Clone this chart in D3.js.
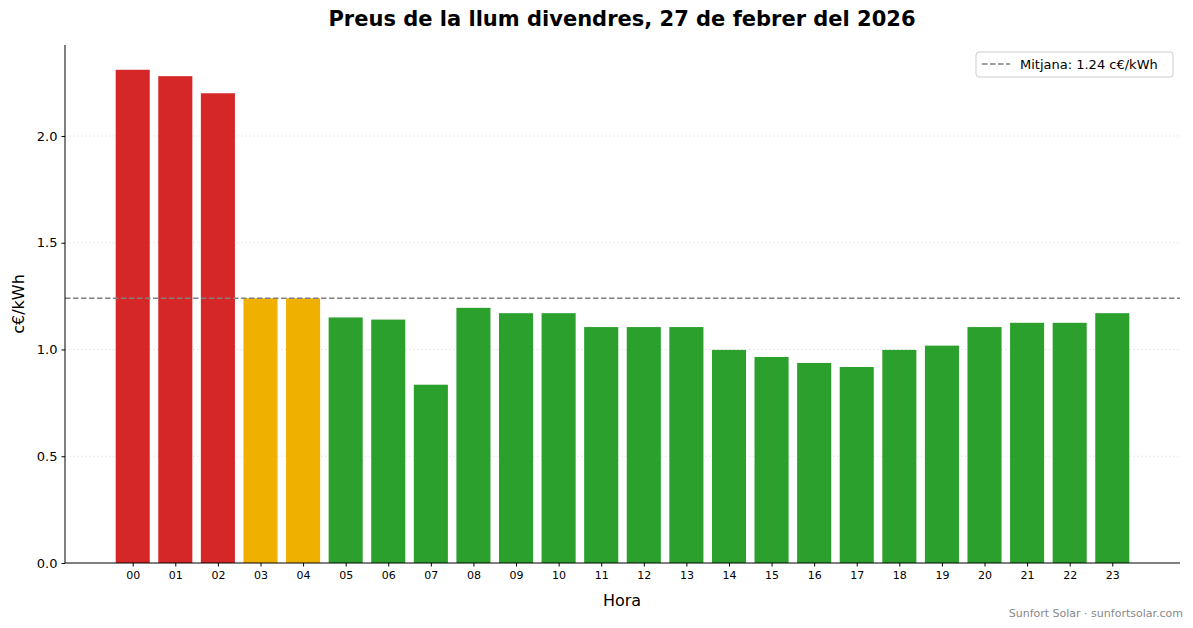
<!DOCTYPE html>
<html><head><meta charset="utf-8">
<script src="https://cdn.jsdelivr.net/npm/d3@7"></script>
<style>body{margin:0;background:#fff}text{font-family:"DejaVu Sans",sans-serif}</style>
</head><body><svg id="c" width="1193" height="628"></svg>
<script>
const hours = ["00","01","02","03","04","05","06","07","08","09","10","11","12","13","14","15","16","17","18","19","20","21","22","23"];
const prices = [2.31,2.28,2.20,1.24,1.24,1.15,1.14,0.835,1.195,1.17,1.17,1.105,1.105,1.105,0.998,0.965,0.937,0.918,0.998,1.018,1.105,1.125,1.125,1.17];
const levels = ["high","high","high","mid","mid","low","low","low","low","low","low","low","low","low","low","low","low","low","low","low","low","low","low","low"];
const yTicks = [0,0.5,1.0,1.5,2.0];
const mean = 1.24;
const colors = {high:"#d62728",mid:"#f0b000",low:"#2ca02c"};

const svg = d3.select("#c");
const L=65,R=1180,T=45,B=563;
const x = d3.scaleLinear().domain([-1.59,24.59]).range([L,R]);
const y = d3.scaleLinear().domain([0,2.426]).range([B,T]);
const bw = x(0.8)-x(0);

svg.append("g").selectAll("line").data(yTicks.slice(1)).join("line")
 .attr("x1",L).attr("x2",R).attr("y1",d=>y(d)).attr("y2",d=>y(d))
 .attr("stroke","#ddd").attr("stroke-dasharray","1.5,2.5").attr("stroke-width",0.8);

svg.append("g").selectAll("rect").data(prices).join("rect")
 .attr("x",(d,i)=>x(i)-bw/2).attr("width",bw)
 .attr("y",d=>y(d)).attr("height",d=>B-y(d))
 .attr("fill",(d,i)=>colors[levels[i]]);

svg.append("line").attr("x1",L).attr("x2",R).attr("y1",y(mean)).attr("y2",y(mean))
 .attr("stroke","#808080").attr("stroke-width",1.5).attr("stroke-dasharray","5.5,2.5");

const ya = svg.append("g").attr("transform",`translate(${L},0)`)
 .call(d3.axisLeft(y).tickValues(yTicks).tickFormat(d3.format(".1f")).tickSize(3.5).tickPadding(4));
ya.selectAll("text").attr("font-size",13).attr("fill","#000");
ya.select(".domain").attr("d",`M0,${T}V${B}`);
const xa = svg.append("g").attr("transform",`translate(0,${B})`)
 .call(d3.axisBottom(x).tickValues(d3.range(24)).tickFormat(i=>hours[i]).tickSize(3.5).tickPadding(5));
xa.selectAll("text").attr("font-size",11).attr("fill","#000");
xa.select(".domain").attr("d",`M${L},0H${R}`);
svg.selectAll(".domain").attr("stroke","#000");

svg.append("text").attr("x",622).attr("y",26).attr("text-anchor","middle")
 .attr("font-size",21).attr("font-weight","bold").text("Preus de la llum divendres, 27 de febrer del 2026");
svg.append("text").attr("x",622).attr("y",606).attr("text-anchor","middle").attr("font-size",16).text("Hora");
svg.append("text").attr("transform",`translate(24,${(T+B)/2}) rotate(-90)`).attr("text-anchor","middle").attr("font-size",16).text("c€/kWh");
svg.append("text").attr("x",1183).attr("y",617).attr("text-anchor","end").attr("font-size",11).attr("fill","#888").text("Sunfort Solar · sunfortsolar.com");

const lg = svg.append("g");
lg.append("rect").attr("x",976).attr("y",52).attr("width",197).attr("height",25).attr("rx",3)
 .attr("fill","#fff").attr("fill-opacity",0.8).attr("stroke","#ccc");
lg.append("line").attr("x1",982).attr("x2",1010).attr("y1",64).attr("y2",64)
 .attr("stroke","#808080").attr("stroke-width",1.5).attr("stroke-dasharray","5.5,2.5");
lg.append("text").attr("x",1020).attr("y",69).attr("font-size",13).text(`Mitjana: ${mean.toFixed(2)} c€/kWh`);
</script></body></html>
